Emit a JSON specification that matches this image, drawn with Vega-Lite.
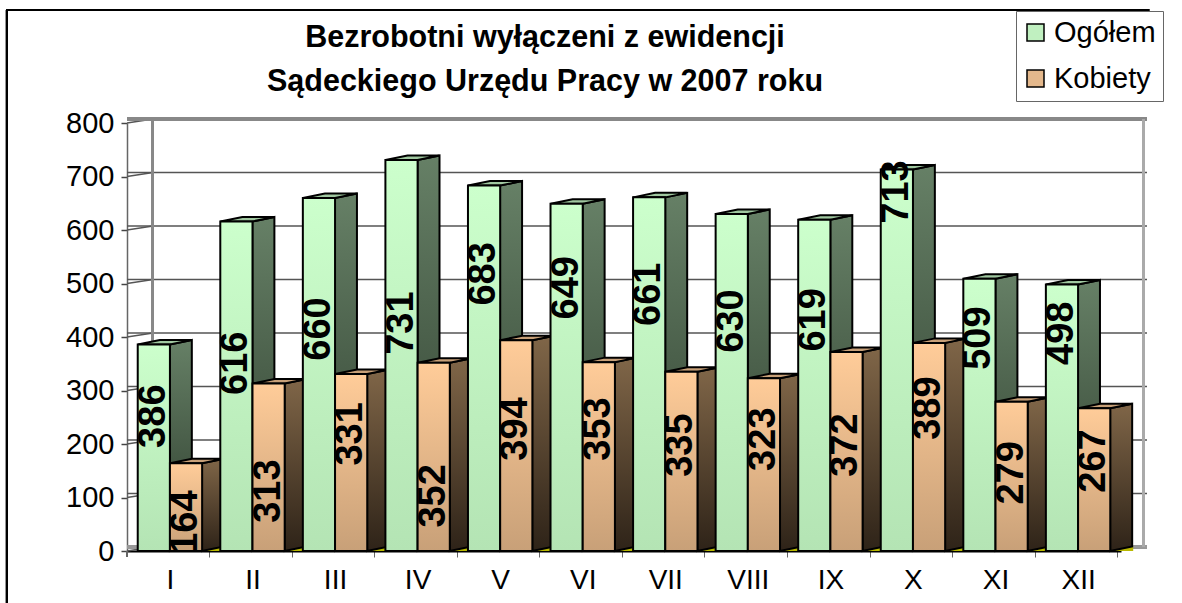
{
"$schema":"https://vega.github.io/schema/vega-lite/v6.json",
"width":994,"height":428,
"autosize":"none",
"padding":{"left":127,"top":123,"right":61,"bottom":52},
"background":"white",
"config":{"font":"Liberation Sans","view":{"stroke":null}},
"title":{"text":["Bezrobotni wyłączeni z ewidencji","Sądeckiego Urzędu Pracy w 2007 roku"],"font":"Liberation Sans","fontSize":30.5,"fontWeight":"bold","color":"black","lineHeight":44,"anchor":"middle","dx":-79,"offset":0,"dy":88},
"datasets":{
"months":[
{"month":"I","series":"Ogółem","value":386,"labelAt":252},{"month":"I","series":"Kobiety","value":164,"labelAt":54},
{"month":"II","series":"Ogółem","value":616,"labelAt":351},{"month":"II","series":"Kobiety","value":313,"labelAt":112},
{"month":"III","series":"Ogółem","value":660,"labelAt":415},{"month":"III","series":"Kobiety","value":331,"labelAt":219},
{"month":"IV","series":"Ogółem","value":731,"labelAt":426},{"month":"IV","series":"Kobiety","value":352,"labelAt":103},
{"month":"V","series":"Ogółem","value":683,"labelAt":518},{"month":"V","series":"Kobiety","value":394,"labelAt":228},
{"month":"VI","series":"Ogółem","value":649,"labelAt":492},{"month":"VI","series":"Kobiety","value":353,"labelAt":228},
{"month":"VII","series":"Ogółem","value":661,"labelAt":480},{"month":"VII","series":"Kobiety","value":335,"labelAt":198},
{"month":"VIII","series":"Ogółem","value":630,"labelAt":430},{"month":"VIII","series":"Kobiety","value":323,"labelAt":209},
{"month":"IX","series":"Ogółem","value":619,"labelAt":432},{"month":"IX","series":"Kobiety","value":372,"labelAt":198},
{"month":"X","series":"Ogółem","value":713,"labelAt":671},{"month":"X","series":"Kobiety","value":389,"labelAt":267},
{"month":"XI","series":"Ogółem","value":509,"labelAt":398},{"month":"XI","series":"Kobiety","value":279,"labelAt":146},
{"month":"XII","series":"Ogółem","value":498,"labelAt":407},{"month":"XII","series":"Kobiety","value":267,"labelAt":168}
],
"ticks":[{"t":0},{"t":100},{"t":200},{"t":300},{"t":400},{"t":500},{"t":600},{"t":700},{"t":800}]
},
"data":{"name":"months"},
"layer":[
{"data":{"name":"ticks"},"mark":{"type":"rule","color":"#555","strokeWidth":1.5,"xOffset":26,"x2Offset":23,"yOffset":-4},
 "encoding":{"y":{"field":"t","type":"quantitative","scale":{"domain":[0,800],"nice":false},
      "axis":{"title":null,"values":[0,100,200,300,400,500,600,700,800],"grid":false,"labelFont":"Liberation Sans","labelFontSize":29,"labelColor":"black","labelPadding":7,"tickSize":6,"tickColor":"#444","tickWidth":1.5,"domainColor":"#666","domainWidth":1.5}}}},
{"data":{"name":"ticks"},"mark":{"type":"point","shape":"M0,0L26,-4","size":4,"filled":false,"stroke":"#555","strokeWidth":1.5,"opacity":1},
 "encoding":{"x":{"value":0},"y":{"field":"t","type":"quantitative"}}},
{"mark":{"type":"rule","color":"#888","strokeWidth":2.5,"xOffset":26,"x2Offset":23,"yOffset":-4},"encoding":{"y":{"datum":800}}},
{"mark":{"type":"rule","color":"#999","strokeWidth":2.5,"xOffset":26,"x2Offset":23,"yOffset":-4},"encoding":{"y":{"datum":0}}},
{"mark":{"type":"rule","color":"#888","strokeWidth":2,"xOffset":15,"yOffset":-4,"y2Offset":-4},
 "encoding":{"x":{"datum":"I","bandPosition":0},"y":{"datum":800},"y2":{"datum":0}}},
{"mark":{"type":"rule","color":"#aaa","strokeWidth":2.5,"xOffset":33,"yOffset":-4,"y2Offset":-4},
 "encoding":{"x":{"datum":"XII","bandPosition":1},"y":{"datum":800},"y2":{"datum":0}}},
{"mark":{"type":"rule","color":"#666","strokeWidth":1,"xOffset":-10.8},
 "encoding":{"x":{"datum":"I","bandPosition":0},"y":{"datum":0},"y2":{"datum":-11}}},
{"encoding":{
  "x":{"field":"month","type":"nominal","sort":null,"scale":{"type":"band","domain":["I","II","III","IV","V","VI","VII","VIII","IX","X","XI","XII"],"paddingInner":0.22,"paddingOuter":0.13},
       "axis":{"title":null,"labelAngle":0,"labelAlign":"center","labelFont":"Liberation Sans","labelFontSize":28,"labelColor":"black","labelPadding":9,"bandPosition":1,"tickOffset":7,"labelOffset":-7,"tickSize":6,"tickColor":"#666","domainColor":"black","domainWidth":2,"labelBaseline":"top"}},
  "xOffset":{"field":"series","type":"nominal","sort":["Ogółem","Kobiety"],"scale":{"domain":["Ogółem","Kobiety"],"padding":0}}
 },
 "layer":[
  {"mark":{"type":"bar"},
   "encoding":{
    "y":{"field":"value","type":"quantitative"},
    "y2":{"datum":0},
    "fill":{"field":"series","type":"nominal","sort":["Ogółem","Kobiety"],
      "scale":{"domain":["Ogółem","Kobiety"],"range":["#c0f0c0","#e4b88c"]},
      "legend":{"title":null,"orient":"none","legendX":889,"legendY":-112,"symbolType":"square","symbolSize":289,"symbolOffset":-2,"symbolStrokeColor":"black","symbolStrokeWidth":1.5,"labelFont":"Liberation Sans","labelFontSize":29,"labelColor":"black","labelLimit":200,"rowPadding":16,"padding":7,"strokeColor":"#666","fillColor":"white","labelOffset":4,
       "encode":{"symbols":{"update":{"fill":{"signal":"datum.value==='Ogółem'?{gradient:'linear',x1:0,y1:0,x2:0,y2:1,stops:[{offset:0,color:'#ccffcc'},{offset:1,color:'#b4e4b4'}]}:{gradient:'linear',x1:0,y1:0,x2:0,y2:1,stops:[{offset:0,color:'#ffcc99'},{offset:1,color:'#c8a078'}]}"},"stroke":{"value":"black"}}}}}}
   }},
  {"transform":[{"filter":"datum.series==='Kobiety'"}],
   "mark":{"type":"point","shape":"M16,0L39,0L39,-4.5Z","size":4,"filled":true,"fill":"#b8b800","opacity":1},"encoding":{"y":{"datum":0}}},
  {"transform":[{"filter":"datum.series==='Ogółem'"}],
   "layer":[
    {"mark":{"type":"point","shape":{"expr":"'M16,0L38,-4.5L38,'+(datum.value*0.535-4.5)+'L16,'+(datum.value*0.535)+'Z'"},"size":4,"filled":true,"stroke":"black","strokeWidth":2,"opacity":1,"fill":{"gradient":"linear","x1":0,"y1":0,"x2":0,"y2":1,"stops":[{"offset":0,"color":"#668066"},{"offset":1,"color":"#2b3a2b"}]}},"encoding":{"y":{"field":"value","type":"quantitative"}}},
    {"mark":{"type":"point","shape":"M-16,0L16,0L38,-4.5L6,-4.5Z","size":4,"filled":true,"fill":"#a0c8a0","stroke":"black","strokeWidth":2,"opacity":1},"encoding":{"y":{"field":"value","type":"quantitative"}}}
   ]},
  {"transform":[{"filter":"datum.series==='Kobiety'"}],
   "layer":[
    {"mark":{"type":"point","shape":{"expr":"'M16,0L38,-4.5L38,'+(datum.value*0.535-4.5)+'L16,'+(datum.value*0.535)+'Z'"},"size":4,"filled":true,"stroke":"black","strokeWidth":2,"opacity":1,"fill":{"gradient":"linear","x1":0,"y1":0,"x2":0,"y2":1,"stops":[{"offset":0,"color":"#806648"},{"offset":1,"color":"#2e2318"}]}},"encoding":{"y":{"field":"value","type":"quantitative"}}},
    {"mark":{"type":"point","shape":"M-16,0L16,0L38,-4.5L6,-4.5Z","size":4,"filled":true,"fill":"#c8a078","stroke":"black","strokeWidth":2,"opacity":1},"encoding":{"y":{"field":"value","type":"quantitative"}}}
   ]},
  {"transform":[{"filter":"datum.series==='Ogółem'"}],"mark":{"type":"bar","stroke":"black","strokeWidth":2,"fill":{"gradient":"linear","x1":0,"y1":0,"x2":0,"y2":1,"stops":[{"offset":0,"color":"#ccffcc"},{"offset":1,"color":"#b4e4b4"}]}},
   "encoding":{"y":{"field":"value","type":"quantitative"},"y2":{"datum":0}}},
  {"transform":[{"filter":"datum.series==='Kobiety'"}],"mark":{"type":"bar","stroke":"black","strokeWidth":2,"fill":{"gradient":"linear","x1":0,"y1":0,"x2":0,"y2":1,"stops":[{"offset":0,"color":"#ffcc99"},{"offset":1,"color":"#c8a078"}]}},
   "encoding":{"y":{"field":"value","type":"quantitative"},"y2":{"datum":0}}},
  {"mark":{"type":"text","angle":270,"font":"Liberation Sans","fontWeight":"bold","fontSize":38,"color":"black","align":"center","baseline":"middle","clip":true},
   "encoding":{"y":{"field":"labelAt","type":"quantitative"},"text":{"field":"value","type":"quantitative"}}}
 ]},
{"mark":{"type":"rule","color":"black","strokeWidth":1.5,"xOffset":-131,"x2Offset":71},"encoding":{"x":{"datum":"I","bandPosition":0},"x2":{"datum":"XII"},"y":{"datum":1011}}},
{"mark":{"type":"rule","color":"black","strokeWidth":1.5,"xOffset":-131},"encoding":{"x":{"datum":"I","bandPosition":0},"y":{"datum":1011},"y2":{"datum":-97}}}
]
}
